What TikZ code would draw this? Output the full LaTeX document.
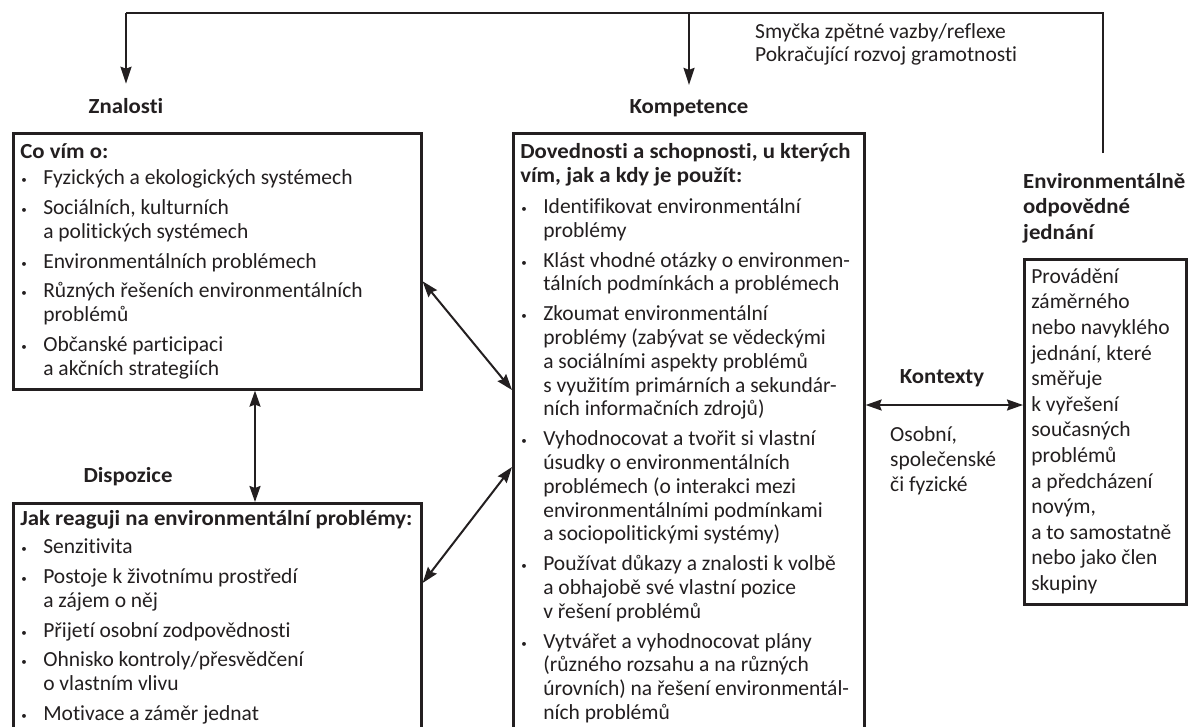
\documentclass[tikz,border=0pt]{standalone}
\usepackage{fontspec}
\setmainfont{Carlito}[Ligatures=NoCommon, BoldFeatures={FakeStretch=1.06}]
\usetikzlibrary{arrows.meta}

\definecolor{ink}{RGB}{35,31,32}

% bullet and hanging indent for the box lists
\newcommand{\bul}{\makebox[23pt][l]{\hspace{1pt}\raisebox{1pt}{\fontsize{11}{11}\selectfont\textbullet}}}
\newcommand{\ind}{\hspace*{23pt}}
% fixed-size text block of a box: height, width, lines
\newcommand{\boxtext}[3]{\parbox[t][#1][t]{#2}{\begin{tabular}[t]{@{}l@{}}#3\end{tabular}}}

\begin{document}
\begin{tikzpicture}[x=1pt,y=-1pt,
    txt/.style={font=\fontsize{21.5}{23.8}\selectfont, text=ink, inner sep=0pt},
    head/.style={txt, font=\fontsize{21.5}{25.5}\selectfont\bfseries},
    box/.style={txt, draw=ink, line width=2.6pt, anchor=north west,
        inner xsep=7pt, inner ysep=9pt},
    link/.style={draw=ink, line width=2pt, {Stealth[length=16pt,width=11pt,inset=2pt]}-{Stealth[length=16pt,width=11pt,inset=2pt]}},
    feed/.style={draw=ink, line width=2pt, -{Stealth[length=17pt,width=11pt,inset=2pt]}},
  ]
    \useasboundingbox (0,0) rectangle (1189,726);
    \clip (0,0) rectangle (1189,726);

    % Labels
    \node[head, anchor=base] (knowlabel) at (126,113) {Znalosti};
    \node[head, anchor=base] (complabel) at (689,113) {Kompetence};
    \node[head, anchor=base] (displabel) at (128,482) {Dispozice};
    \node[head, anchor=base] (ctxlabel) at (942,383) {Kontexty};
    \node[head, anchor=north west, align=left] (actlabel) at (1023,173)
        {Environmentálně\\odpovědné\\jednání};

    % Boxes
    \node[box] (know) at (12,132) {\boxtext{238pt}{394pt}{
        \textbf{Co vím o:}\\[2pt]
        \bul Fyzických a ekologických systémech\\[6pt]
        \bul Sociálních, kulturních\\
        \ind a politických systémech\\[6pt]
        \bul Environmentálních problémech\\[6pt]
        \bul Různých řešeních environmentálních\\
        \ind problémů\\[6pt]
        \bul Občanské participaci\\
        \ind a akčních strategiích}};

    \node[box, inner ysep=6pt] (disp) at (12,502) {\boxtext{300pt}{394pt}{
        \textbf{Jak reaguji na environmentální problémy:}\\[4pt]
        \bul Senzitivita\\[6pt]
        \bul Postoje k životnímu prostředí\\
        \ind a zájem o něj\\[6pt]
        \bul Přijetí osobní zodpovědnosti\\[6pt]
        \bul Ohnisko kontroly/přesvědčení\\
        \ind o vlastním vlivu\\[6pt]
        \bul Motivace a záměr jednat}};

    \node[box] (comp) at (512,132) {\boxtext{620pt}{337pt}{
        \textbf{Dovednosti a schopnosti, u kterých}\\
        \textbf{vím, jak a kdy je použít:}\\[7pt]
        \bul Identifikovat environmentální\\
        \ind problémy\\[6pt]
        \bul Klást vhodné otázky o environmen-\\
        \ind tálních podmínkách a problémech\\[6pt]
        \bul Zkoumat environmentální\\
        \ind problémy (zabývat se vědeckými\\
        \ind a sociálními aspekty problémů\\
        \ind s využitím primárních a sekundár-\\
        \ind ních informačních zdrojů)\\[6pt]
        \bul Vyhodnocovat a tvořit si vlastní\\
        \ind úsudky o environmentálních\\
        \ind problémech (o interakci mezi\\
        \ind environmentálními podmínkami\\
        \ind a sociopolitickými systémy)\\[6pt]
        \bul Používat důkazy a znalosti k volbě\\
        \ind a obhajobě své vlastní pozice\\
        \ind v řešení problémů\\[6pt]
        \bul Vytvářet a vyhodnocovat plány\\
        \ind (různého rozsahu a na různých\\
        \ind úrovních) na řešení environmentál-\\
        \ind ních problémů}};

    \node[box, inner ysep=6pt, font=\fontsize{21.5}{25.6}\selectfont] (act) at (1023,258)
        {\boxtext{333pt}{148pt}{
        Provádění\\ záměrného\\ nebo navyklého\\ jednání, které\\ směřuje\\
        k vyřešení\\ současných\\ problémů\\ a předcházení\\ novým,\\
        a to samostatně\\ nebo jako člen\\ skupiny}};

    % Texts beside the connectors
    \node[txt, anchor=north west, align=left, font=\fontsize{21.5}{23}\selectfont] (looptext) at (755,23)
        {Smyčka zpětné vazby/reflexe\\Pokračující rozvoj gramotnosti};
    \node[txt, anchor=north west, align=left, font=\fontsize{21.5}{25}\selectfont] (ctxtext) at (890,426)
        {Osobní,\\společenské\\či fyzické};

    % Feedback loop
    \coordinate (loopR) at (1103,13);
    \coordinate (loopL) at (126,13);
    \coordinate (loopM) at (689,13);
    \draw[draw=ink, line width=2pt, shorten <=20pt] (actlabel.north -| loopR) -- (loopR) -- (loopL);
    \draw[feed, shorten >=14pt] (loopL) -- (knowlabel.north);
    \draw[feed, shorten >=14pt] (loopM) -- (complabel.north);

    % Links between the boxes
    \draw[link] ([xshift=243pt]know.south west) -- ([xshift=243pt]disp.north west);
    \draw[link] ([yshift=-20pt]know.east) -- ([yshift=-258pt]comp.north west);
    \draw[link] ([yshift=-81pt]disp.north east) -- ([yshift=-335pt]comp.north west);
    \coordinate (ctx) at ([yshift=-147pt]act.north west);
    \draw[link] (ctx -| comp.east) -- (ctx);
\end{tikzpicture}
\end{document}
